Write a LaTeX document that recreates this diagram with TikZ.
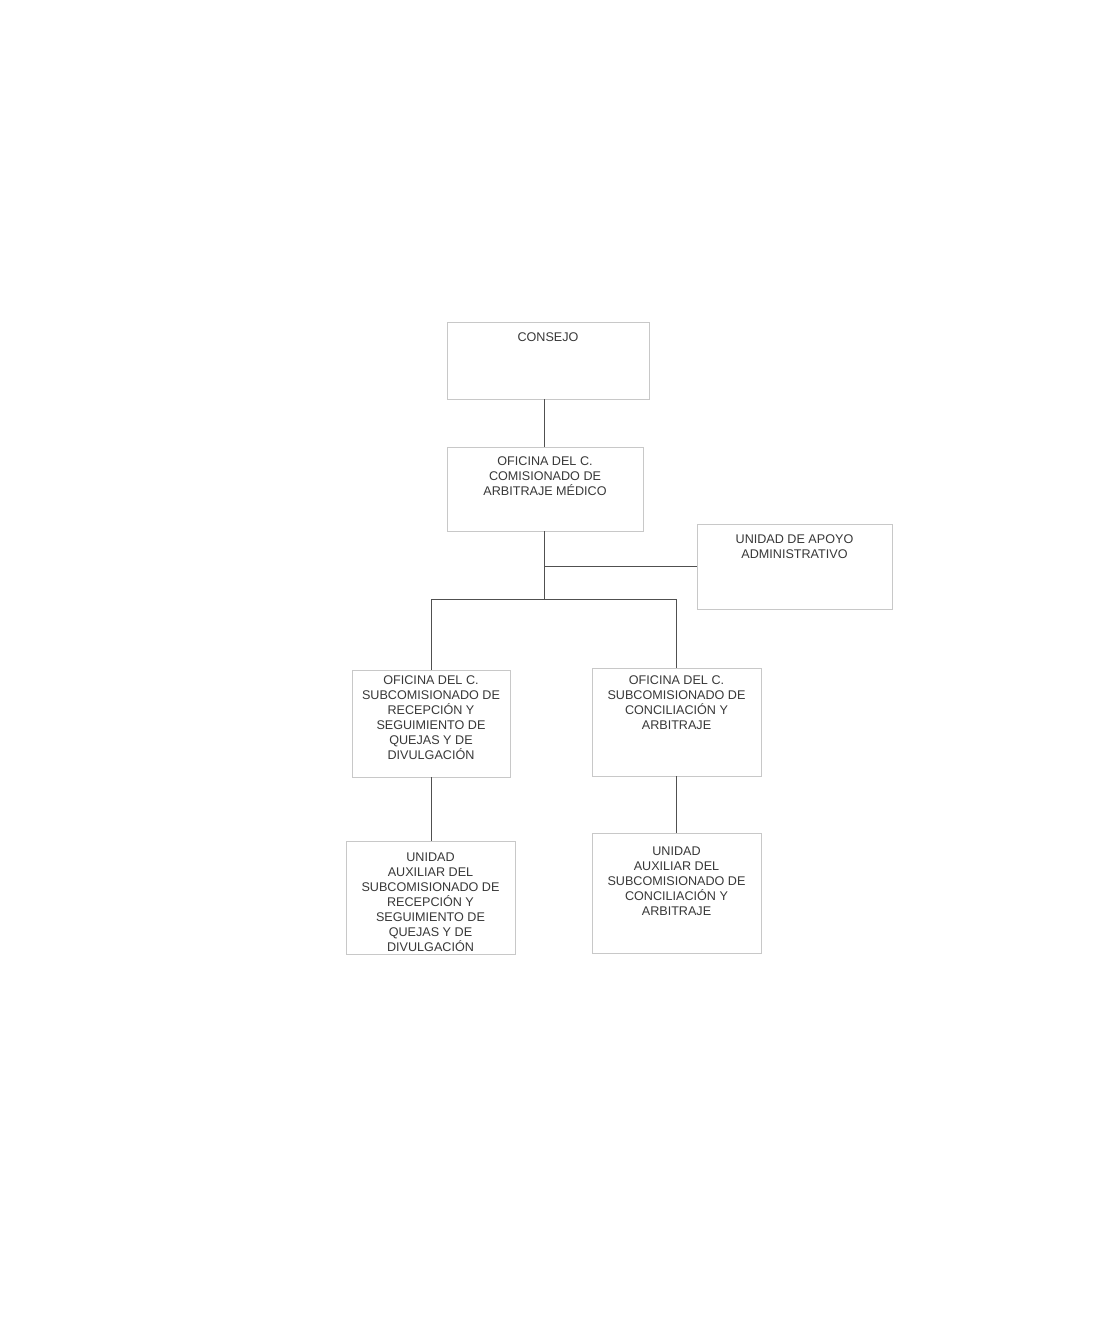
\documentclass[tikz,border=0pt]{standalone}
\usepackage{fontspec}
\setmainfont{Liberation Sans}
\definecolor{boxline}{HTML}{C8C8C8}
\definecolor{conline}{HTML}{505050}
\definecolor{txtcol}{HTML}{383838}
\begin{document}
\begin{tikzpicture}[x=1pt,y=-1pt,
  orgbox/.style={draw=boxline, line width=0.8pt, fill=white, inner sep=0pt},
  orgtxt/.style={anchor=north, inner sep=0pt, align=center, text=txtcol,
    font=\fontsize{12.6}{15}\selectfont},
  conn/.style={draw=conline, line width=0.9pt}]
\useasboundingbox[fill=white] (0,0) rectangle (1111,1332);

% boxes
\node[orgbox, minimum width=202pt, minimum height=77pt] (consejo) at (548,360.5) {};
\node[orgbox, minimum width=196pt, minimum height=84pt] (comis) at (545,489) {};
\node[orgbox, minimum width=195pt, minimum height=85pt] (apoyo) at (794.5,566.5) {};
\node[orgbox, minimum width=158pt, minimum height=107pt] (subrec) at (431,723.5) {};
\node[orgbox, minimum width=169pt, minimum height=108pt] (subcon) at (676.5,722) {};
\node[orgbox, minimum width=169pt, minimum height=113pt] (auxrec) at (430.5,897.5) {};
\node[orgbox, minimum width=169pt, minimum height=120pt] (auxcon) at (676.5,893) {};

% texts
\node[orgtxt] (consejoT) at ([yshift=-8.8pt]consejo.north) {\strut CONSEJO};
\node[orgtxt] (comisT) at ([yshift=-8.2pt]comis.north) {\strut OFICINA DEL C.\\COMISIONADO DE\\ARBITRAJE MÉDICO};
\node[orgtxt] (apoyoT) at ([yshift=-9.2pt]apoyo.north) {\strut UNIDAD DE APOYO\\ADMINISTRATIVO};
\node[orgtxt] (subrecT) at ([yshift=-4.4pt]subrec.north) {\strut OFICINA DEL C.\\SUBCOMISIONADO DE\\RECEPCIÓN Y\\SEGUIMIENTO DE\\QUEJAS Y DE\\DIVULGACIÓN};
\node[orgtxt] (subconT) at ([yshift=-5.8pt]subcon.north) {\strut OFICINA DEL C.\\SUBCOMISIONADO DE\\CONCILIACIÓN Y\\ARBITRAJE};
\node[orgtxt] (auxrecT) at ([yshift=-10.6pt]auxrec.north) {\strut UNIDAD\\AUXILIAR DEL\\SUBCOMISIONADO DE\\RECEPCIÓN Y\\SEGUIMIENTO DE\\QUEJAS Y DE\\DIVULGACIÓN};
\node[orgtxt] (auxconT) at ([yshift=-12.6pt]auxcon.north) {\strut UNIDAD\\AUXILIAR DEL\\SUBCOMISIONADO DE\\CONCILIACIÓN Y\\ARBITRAJE};

% junctions
\coordinate (jbar) at (544,599);
\coordinate (jleft) at (431,599);
\coordinate (jright) at (676.5,599);
\coordinate (japoyo) at (544,566.5);

% connectors
\draw[conn] ([xshift=-1pt]comis.north) -- ([xshift=-1pt]comis.north |- consejo.south);
\draw[conn] ([xshift=-1pt]comis.south) -- (jbar);
\draw[conn] (japoyo) -- (apoyo.west);
\draw[conn] (subrec.north) -- (jleft) -- (jright) -- (subcon.north);
\draw[conn] (subrec.south) -- (subrec.south |- auxrec.north);
\draw[conn] (subcon.south) -- (auxcon.north);
\end{tikzpicture}
\end{document}
